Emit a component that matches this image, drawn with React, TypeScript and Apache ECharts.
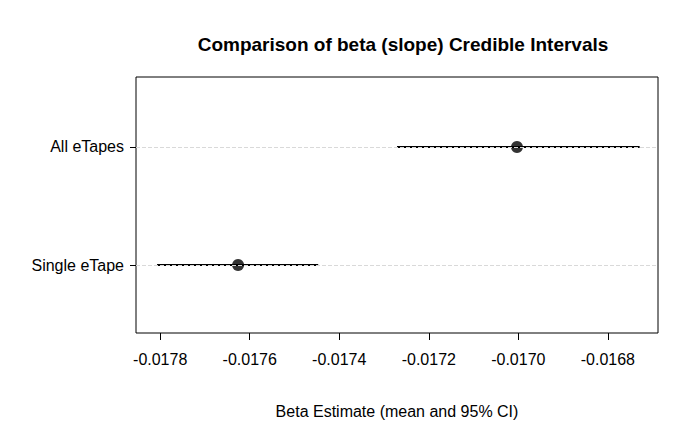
import { useEffect, useRef } from 'react'
import * as echarts from 'echarts'

const labels = ['Single eTape', 'All eTapes']
const means = [-0.017626, -0.017003]
const lower = [-0.017807, -0.017271]
const upper = [-0.017447, -0.016729]
const xTicks = [-0.0178, -0.0176, -0.0174, -0.0172, -0.017, -0.0168]

export default function App() {
  const ref = useRef<HTMLDivElement | null>(null)

  useEffect(() => {
    if (!ref.current) return
    const chart = echarts.init(ref.current, null, { renderer: 'svg' })
    const font = 'Liberation Sans, Arial, sans-serif'
    chart.setOption({
      animation: false,
      textStyle: { fontFamily: font },
      title: {
        text: 'Comparison of beta (slope) Credible Intervals',
        left: 398,
        textAlign: 'center',
        top: 30,
        textStyle: { fontSize: 19, fontWeight: 'bold', color: '#000', fontFamily: font },
      },
      grid: { left: 136, right: 42, top: 77, bottom: 99, show: true, borderColor: '#000', borderWidth: 1 },
      xAxis: {
        type: 'value',
        min: -0.017854,
        max: -0.016688,
        name: 'Beta Estimate (mean and 95% CI)',
        nameLocation: 'middle',
        nameGap: 70,
        nameTextStyle: { color: '#000', fontSize: 16 },
        axisLine: { show: false },
        axisTick: { show: true, length: 7, lineStyle: { color: '#000' }, customValues: xTicks },
        axisLabel: {
          color: '#000',
          fontSize: 16,
          margin: 18,
          customValues: xTicks,
          formatter: (v: number) => v.toFixed(4),
        },
        splitLine: { show: false },
      },
      yAxis: {
        type: 'value',
        min: 0.424,
        max: 2.593,
        axisLine: { show: false },
        axisTick: { show: true, length: 6, lineStyle: { color: '#000' }, customValues: [1, 2] },
        axisLabel: {
          color: '#000',
          fontSize: 16,
          margin: 12,
          customValues: [1, 2],
          formatter: (v: number) => labels[Math.round(v) - 1] ?? '',
        },
        splitLine: { show: false },
      },
      series: [
        {
          type: 'line',
          data: [],
          markLine: {
            silent: true,
            symbol: ['none', 'none'],
            label: { show: false },
            lineStyle: { color: '#d9d9d9', type: 'dashed', width: 1 },
            data: labels.map((_, i) => ({ yAxis: i + 1 })),
          },
        },
        ...labels.map((_, i) => ({
          type: 'line',
          data: [
            [lower[i], i + 1],
            [upper[i], i + 1],
          ],
          symbol: 'none',
          lineStyle: { color: '#000', width: 2 },
        })),
        {
          type: 'scatter',
          data: means.map((m, i) => [m, i + 1]),
          symbolSize: 12,
          itemStyle: { color: '#000' },
        },
      ],
    })
    return () => chart.dispose()
  }, [])

  return <div ref={ref} style={{ width: 700, height: 432, position: 'absolute', left: 0, top: 0 }} />
}
